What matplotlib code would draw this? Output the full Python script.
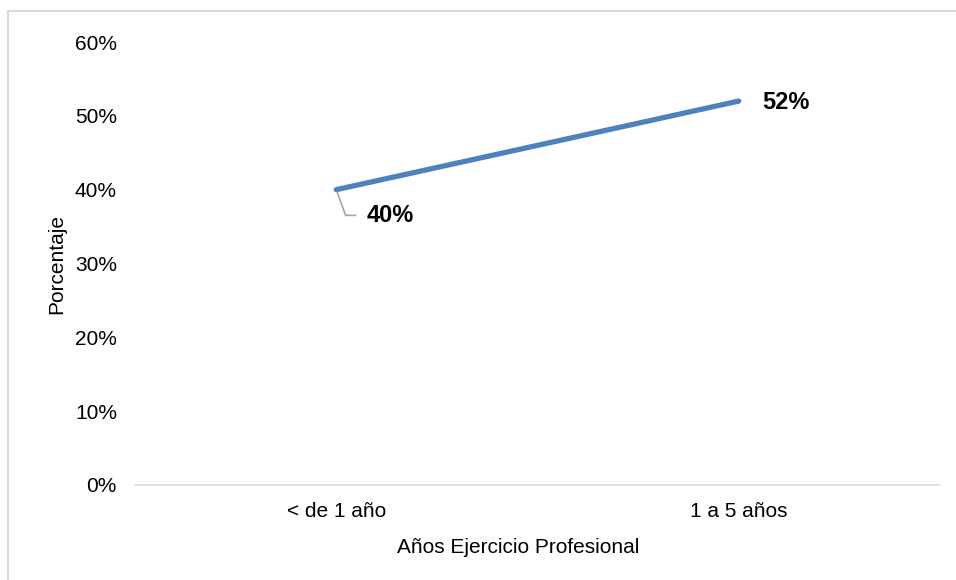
import matplotlib
matplotlib.use('Agg')
import matplotlib.pyplot as plt
from matplotlib.lines import Line2D
from matplotlib.ticker import PercentFormatter

categorias = ['< de 1 año', '1 a 5 años']
porcentajes = [40, 52]
yticks = [0, 10, 20, 30, 40, 50, 60]

plt.rcParams['font.family'] = ['Liberation Sans', 'DejaVu Sans']

W, H = 956, 580
fig = plt.figure(figsize=(W / 100, H / 100), dpi=100)
ax = fig.add_axes([135 / W, 1 - 485 / H, (940 - 135) / W, (485 - 42) / H])

x = list(range(len(categorias)))
ax.plot(x, porcentajes, color='#4F81BD', linewidth=3.8, solid_capstyle='round')

ax.set_xlim(-0.5, len(categorias) - 0.5)
ax.set_ylim(0, 60)
ax.set_yticks(yticks)
ax.yaxis.set_major_formatter(PercentFormatter(decimals=0))
ax.set_xticks(x)
ax.set_xticklabels(categorias)
ax.tick_params(axis='both', length=0, labelsize=15, colors='black')
ax.tick_params(axis='y', pad=13)
ax.tick_params(axis='x', pad=12)

for side in ['top', 'right', 'left']:
    ax.spines[side].set_visible(False)
ax.spines['bottom'].set_color('#d9d9d9')
ax.spines['bottom'].set_linewidth(1.2)

ax.set_ylabel('Porcentaje', fontsize=15)
ax.yaxis.set_label_coords(-0.086, 0.5)
ax.set_xlabel('Años Ejercicio Profesional', fontsize=15)
ax.xaxis.set_label_coords(0.476, -0.12)

# etiqueta del primer punto con linea guia
ax.annotate(f'{porcentajes[0]}%', xy=(x[0], porcentajes[0]), xytext=(22, -18.5),
            textcoords='offset points', fontsize=17, fontweight='bold',
            va='center', ha='left',
            arrowprops=dict(arrowstyle='-', color='#a6a6a6', lw=1.2,
                            connectionstyle='angle,angleA=0,angleB=-70,rad=0',
                            shrinkA=6, shrinkB=2))
ax.annotate(f'{porcentajes[1]}%', xy=(x[1], porcentajes[1]), xytext=(17, -1),
            textcoords='offset points', fontsize=17, fontweight='bold',
            va='center', ha='left')

# borde del area del grafico (arriba e izquierda)
fig.add_artist(Line2D([8 / W, 1], [1 - 11 / H, 1 - 11 / H], color='#d9d9d9', lw=1.5))
fig.add_artist(Line2D([8 / W, 8 / W], [0, 1 - 11 / H], color='#d9d9d9', lw=1.5))

fig.savefig('out.png', dpi=100)
